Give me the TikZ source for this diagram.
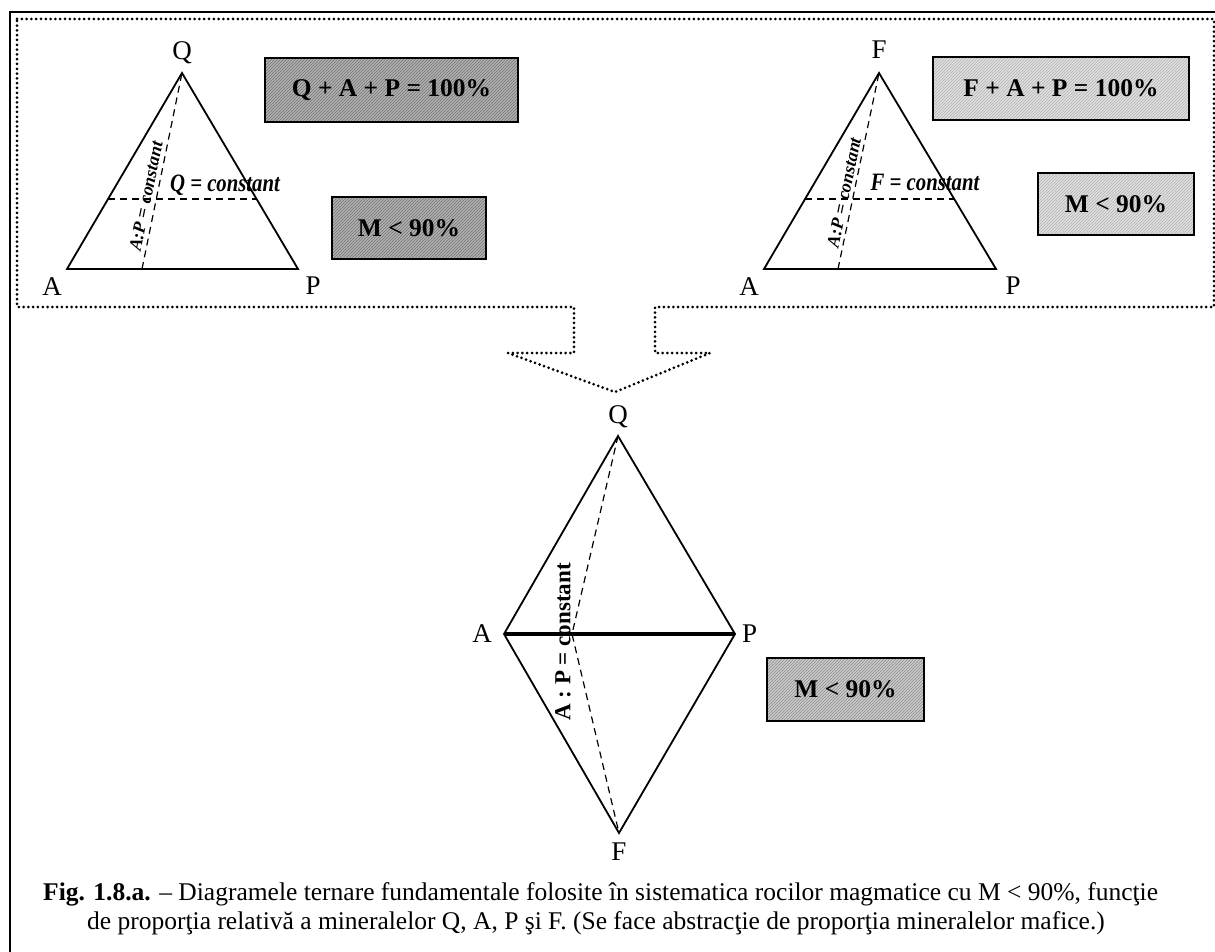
\documentclass[tikz,border=0pt]{standalone}
\usepackage{fontspec}
\setmainfont{Liberation Serif}
\usetikzlibrary{positioning,calc,patterns}
\tikzset{
	  outer frame/.style = {line width=1.4pt},
	 dotted frame/.style = {line width=3pt, line cap=round, dash pattern=on 0pt off 4.8pt},
	     tri side/.style = {line width=1.8pt, line join=miter},
	   guide line/.style = {line width=1.2pt, dash pattern=on 7pt off 5pt},
	 vertex label/.style = {inner sep=0pt, font=\fontsize{27}{27}\selectfont},
	    const lab/.style = {inner sep=0pt, font=\bfseries\itshape\fontsize{25}{25}\selectfont},
	    ratio lab/.style = {inner sep=0pt, font=\bfseries\itshape\fontsize{18}{18}\selectfont},
	    ratio big/.style = {inner sep=0pt, font=\bfseries\fontsize{23}{23}\selectfont},
	      sum box/.style = {draw, line width=1.4pt, inner sep=0pt, font=\bfseries\fontsize{25.5}{25.5}\selectfont},
	    dark fill/.style = {preaction={fill=black!30}, pattern=north east lines, pattern color=black!55},
	  middle fill/.style = {preaction={fill=black!20}, pattern=north east lines, pattern color=black!45},
	   light fill/.style = {preaction={fill=black!12}, pattern=north east lines, pattern color=black!30},
	  caption lab/.style = {inner sep=0pt, anchor=base west, font=\fontsize{25.5}{25.5}\selectfont}
}

\begin{document}
\begin{tikzpicture}[x=1pt, y=-1pt]
	\useasboundingbox (0,0) rectangle (1215,952);
	\draw[outer frame] (10,970) -- (10,12) -- (1230,12);
	\draw[dotted frame] (17,19) -- (1214,19) -- (1214,307) -- (655,307) -- (655,353)
		-- (710,353) -- (615,392) -- (508,353) -- (574,353) -- (574,307) -- (17,307) -- cycle;

	% Q - A - P
	\coordinate (Q1) at (182,73);
	\coordinate (A1) at (67,269);
	\coordinate (P1) at (298,269);
	\coordinate (R1) at (142,269);
	\coordinate (L1) at ($(A1)!0.357!(Q1)$);
	\coordinate (M1) at ($(P1)!0.357!(Q1)$);
	\draw[tri side] (Q1) -- (A1) -- (P1) -- cycle;
	\draw[guide line] (L1) -- (M1);
	\draw[guide line] (R1) -- (Q1) node[ratio lab, pos=0.36, sloped, above=4pt] (r1) {A:P = constant};
	\node[vertex label, above=9pt of Q1] (Q1l) {Q};
	\node[vertex label, below left=8pt and 5pt of A1] (A1l) {A};
	\node[vertex label, below right=8pt and 7.5pt of P1] (P1l) {P};
	\node[const lab] (c1) at (225,185) {\scalebox{0.83}[1]{Q = constant}};

	% F - A - P
	\coordinate (F2) at (879,73);
	\coordinate (A2) at (764,269);
	\coordinate (P2) at (996,269);
	\coordinate (R2) at (838,269);
	\coordinate (L2) at ($(A2)!0.357!(F2)$);
	\coordinate (M2) at ($(P2)!0.357!(F2)$);
	\draw[tri side] (F2) -- (A2) -- (P2) -- cycle;
	\draw[guide line] (L2) -- (M2);
	\draw[guide line] (R2) -- (F2) node[ratio lab, pos=0.38, sloped, above=3pt] (r2) {A:P = constant};
	\node[vertex label, above=14pt of F2] (F2l) {F};
	\node[vertex label, below left=8pt and 5pt of A2] (A2l) {A};
	\node[vertex label, below right=8pt and 9.5pt of P2] (P2l) {P};
	\node[const lab] (c2) at (925,182) {\scalebox{0.83}[1]{F = constant}};

	\node[sum box, dark fill, minimum width=253pt, minimum height=64pt] (sumQ) at (391.5,90) {Q + A + P = 100\%};
	\node[sum box, dark fill, minimum width=154pt, minimum height=62pt] (mQ) at (409,228) {M < 90\%};
	\node[sum box, light fill, minimum width=256pt, minimum height=63pt] (sumF) at (1061,88.5) {F + A + P = 100\%};
	\node[sum box, light fill, minimum width=156pt, minimum height=62pt] (mF) at (1116,204) {M < 90\%};

	% Q - A - P - F
	\coordinate (Q3) at (618,436);
	\coordinate (A3) at (504,634);
	\coordinate (P3) at (735,634);
	\coordinate (F3) at (619,833);
	\coordinate (R3) at (572,634);
	\draw[tri side] (Q3) -- (P3) -- (F3) -- (A3) -- cycle;
	\draw[line width=3.5pt] (A3) -- (P3);
	\draw[guide line] (Q3) -- (R3) -- (F3);
	\node[ratio big, rotate=90] (r3) at (563,642) {A : P = constant};
	\node[vertex label, above=8pt of Q3] (Q3l) {Q};
	\node[vertex label, left=12pt of A3] (A3l) {A};
	\node[vertex label, right=7pt of P3] (P3l) {P};
	\node[vertex label, below=10pt of F3] (F3l) {F};
	\node[sum box, middle fill, minimum width=157pt, minimum height=63pt] (mD) at (845.5,689.5) {M < 90\%};

	\node[caption lab] (cap1) at (43,900) {\textbf{Fig. 1.8.a.} – Diagramele ternare fundamentale folosite în sistematica rocilor magmatice cu M < 90\%, funcţie};
	\node[caption lab] (cap2) at (87,929) {de proporţia relativă a mineralelor Q, A, P şi F. (Se face abstracţie de proporţia mineralelor mafice.)};
\end{tikzpicture}
\end{document}
